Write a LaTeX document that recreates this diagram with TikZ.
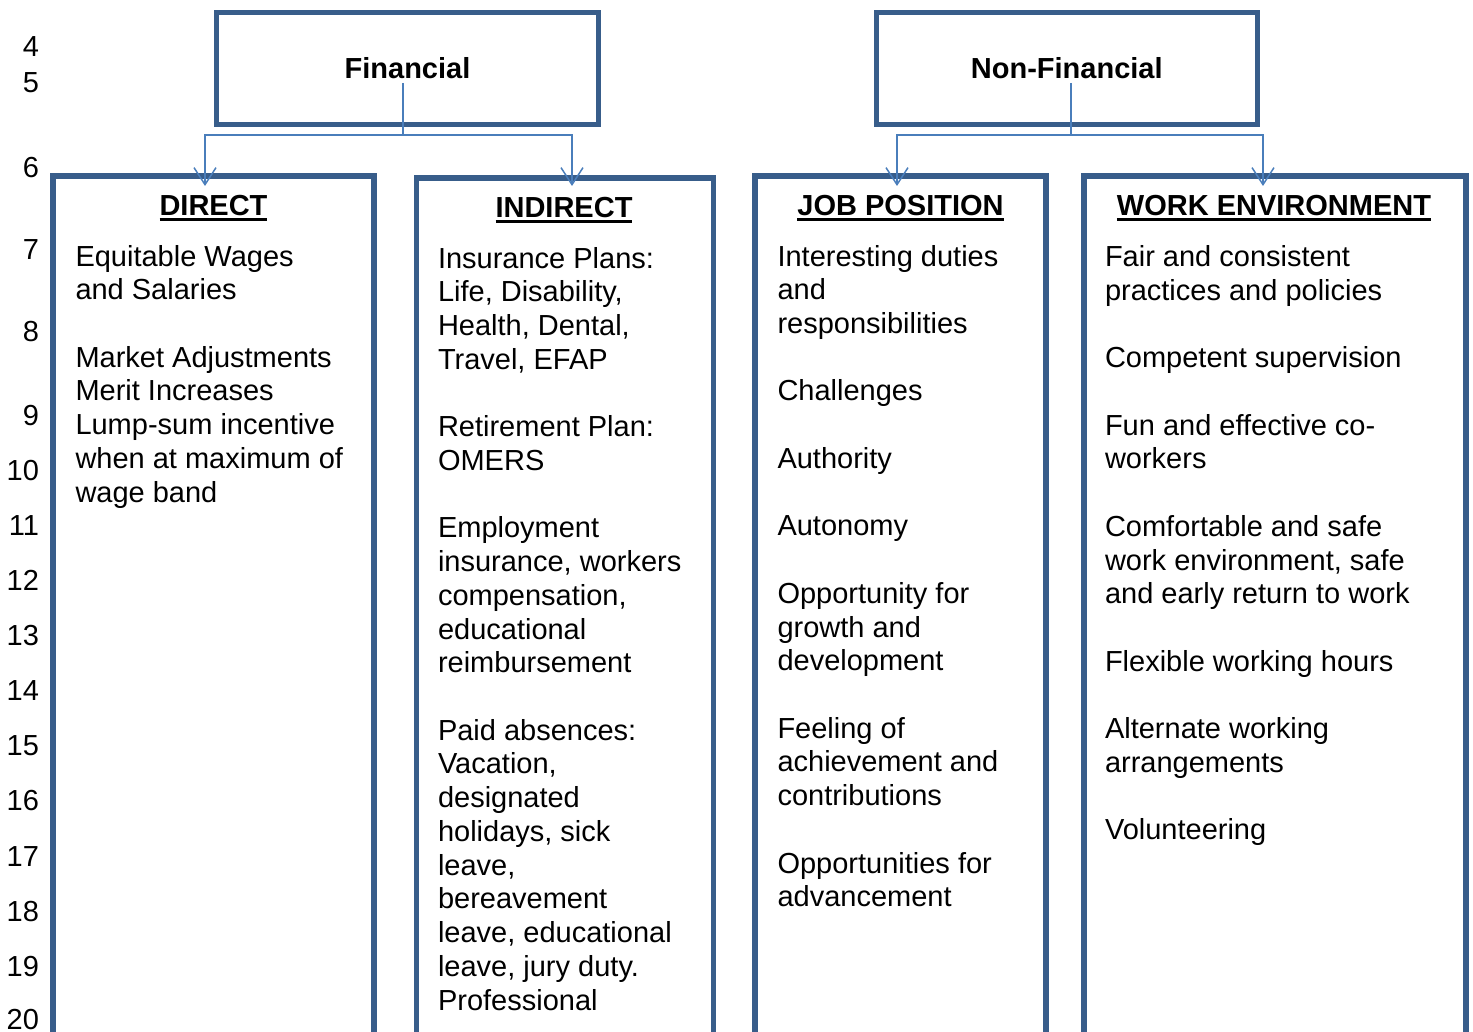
\documentclass[tikz,border=0pt]{standalone}
\usepackage{fontspec}
\setmainfont{Liberation Sans}
\usetikzlibrary{arrows.meta,calc}

\definecolor{boxblue}{RGB}{56,93,138}
\definecolor{linkblue}{RGB}{74,126,187}

\newlength\linepitch
\setlength\linepitch{33.73pt}
% fixed-height strut so the first baseline sits 30pt below the node top
\newcommand\firstln{\rule{0pt}{30pt}}
% heading underline
\newcommand\hdul[1]{\setbox0\hbox{#1}\rlap{\rule[-5pt]{\wd0}{2.8pt}}\box0}

\tikzset{
  every node/.style={inner sep=0pt, outer sep=0pt},
  txt/.style={font=\fontsize{29pt}{33.73pt}\selectfont},
  topbox/.style={draw=boxblue, line width=5pt, font=\fontsize{29pt}{33.73pt}\selectfont\bfseries},
  colbox/.style={draw=boxblue, line width=5.5pt, anchor=north west},
  heading/.style={anchor=base, font=\fontsize{29pt}{33.73pt}\selectfont\bfseries},
  body/.style={anchor=north west, align=left, txt},
  lnum/.style={anchor=base east, txt},
  conn/.style={draw=linkblue, line width=1.5pt},
  tip/.style={-{Straight Barb[length=17pt,width=22pt]}}
}

\begin{document}
\begin{tikzpicture}[x=1pt,y=-1pt]
\useasboundingbox (0,0) rectangle (1473,1032);
\clip (0,0) rectangle (1473,1032);

% line numbers in the margin
\foreach \n/\y in {4/57,5/93,6/178,7/260,8/342,9/425,10/480,11/535,12/590,13/645.5,
                   14/700.5,15/755.5,16/810.5,17/866,18/921,19/976,20/1029.5}
  \node[lnum] (ln\n) at (39,\y) {\n};

% top-level categories
\node[topbox, minimum width=382pt, minimum height=112pt] (fin) at (407.5,68.5) {\raisebox{-1.5pt}{Financial}};
\node[topbox, minimum width=380.5pt, minimum height=112pt] (nonfin) at (1066.75,68.5) {\raisebox{-1.5pt}{Non-Financial}};

% sub-category columns (run past the bottom edge)
\node[colbox, minimum width=321pt, minimum height=870pt] (direct) at (53,176) {};
\node[colbox, minimum width=297pt, minimum height=870pt] (indirect) at (416.5,178) {};
\node[colbox, minimum width=291pt, minimum height=870pt] (job) at (755,176) {};
\node[colbox, minimum width=382pt, minimum height=870pt] (work) at (1084,176) {};

% headings
\node[heading] (h-direct) at ($(direct.north)+(0,40)$) {\hdul{DIRECT}};
\node[heading] (h-indirect) at ($(indirect.north)+(-1,40)$) {\hdul{INDIRECT}};
\node[heading] (h-job) at ($(job.north)+(0,40)$) {\hdul{JOB POSITION}};
\node[heading] (h-work) at ($(work.north)+(-1,40)$) {\hdul{WORK ENVIRONMENT}};

% column contents
\node[body] (t-direct) at ($(direct.north west)+(22.5,60)$) {%
\firstln Equitable Wages\\ and Salaries\\[\linepitch]
Market Adjustments\\ Merit Increases\\ Lump-sum incentive\\ when at maximum of\\ wage band};

\node[body] (t-indirect) at ($(indirect.north west)+(21.5,60)$) {%
\firstln Insurance Plans:\\ Life, Disability,\\ Health, Dental,\\ Travel, EFAP\\[\linepitch]
Retirement Plan:\\ OMERS\\[\linepitch]
Employment\\ insurance, workers\\ compensation,\\ educational\\ reimbursement\\[\linepitch]
Paid absences:\\ Vacation,\\ designated\\ holidays, sick\\ leave,\\ bereavement\\
leave, educational\\ leave, jury duty.\\ Professional};

\node[body] (t-job) at ($(job.north west)+(22.5,60)$) {%
\firstln Interesting duties\\ and\\ responsibilities\\[\linepitch]
Challenges\\[\linepitch]
Authority\\[\linepitch]
Autonomy\\[\linepitch]
Opportunity for\\ growth and\\ development\\[\linepitch]
Feeling of\\ achievement and\\ contributions\\[\linepitch]
Opportunities for\\ advancement};

\node[body] (t-work) at ($(work.north west)+(21,60.5)$) {%
\firstln Fair and consistent\\ practices and policies\\[\linepitch]
Competent supervision\\[\linepitch]
Fun and effective co-\\ workers\\[\linepitch]
Comfortable and safe\\ work environment, safe\\ and early return to work\\[\linepitch]
Flexible working hours\\[\linepitch]
Alternate working\\ arrangements\\[\linepitch]
Volunteering};

% connector points
\coordinate (fin-stem) at (403,83);
\coordinate (fin-bus) at (403,135);
\coordinate (dir-tip) at (205,186);
\coordinate (ind-tip) at (572,186);
\coordinate (nf-stem) at (1071,83);
\coordinate (nf-bus) at (1071,135);
\coordinate (job-tip) at (897,186);
\coordinate (work-tip) at (1263,186);

% connectors
\draw[conn] (fin-stem) -- (fin-bus);
\draw[conn, tip] (fin-bus) -| (dir-tip);
\draw[conn, tip] (fin-bus) -| (ind-tip);
\draw[conn] (nf-stem) -- (nf-bus);
\draw[conn, tip] (nf-bus) -| (job-tip);
\draw[conn, tip] (nf-bus) -| (work-tip);
\end{tikzpicture}
\end{document}
